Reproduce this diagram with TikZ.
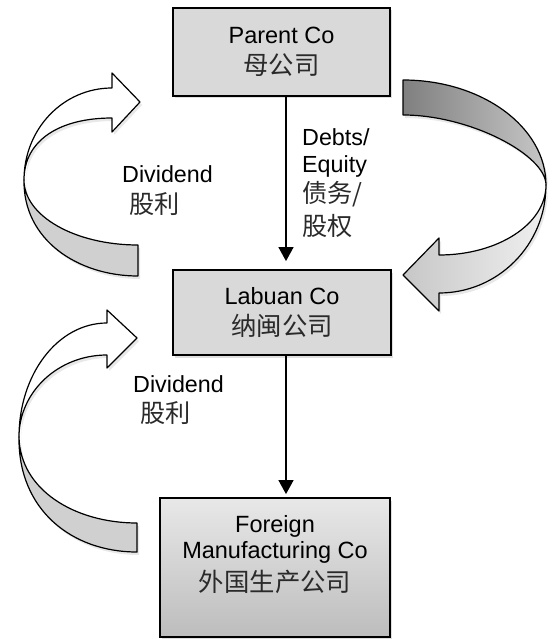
\documentclass[tikz,border=0pt]{standalone}
\usepackage{fontspec}
\setmainfont{Liberation Sans}
\newfontfamily\cjk[Scale=1.08]{Noto Sans CJK SC}
\usetikzlibrary{arrows.meta,shadows,calc}
\definecolor{boxfill}{HTML}{D9D9D9}
\definecolor{backgray}{HTML}{D0D0D0}
\definecolor{cjkcol}{HTML}{2A2A2A}
\begin{document}
\begin{tikzpicture}[x=1pt,y=-1pt,
  box/.style={draw=black, line width=1.8pt, fill=boxfill, inner sep=0pt, align=center,
    font=\fontsize{23.5}{26}\selectfont,
    drop shadow={opacity=0.25, shadow xshift=2pt, shadow yshift=-2.5pt}},
  lbl/.style={inner sep=0pt, align=left, font=\fontsize{23.3}{26}\selectfont},
  conn/.style={draw=black, line width=1.3pt, -{Triangle[length=14pt,width=15pt]}},
  ribbon/.style={draw=black, line width=1.2pt, line join=round},
  rshadow/.style={drop shadow={opacity=0.18, shadow xshift=2pt, shadow yshift=-3pt}}]
\useasboundingbox (0,0) rectangle (554,639);

% boxes
\node[box, minimum width=217pt, minimum height=88pt] (parent) at (281.5,52)
  {Parent Co\\[5pt]{\cjk\color{cjkcol}母公司}};
\node[box, minimum width=218pt, minimum height=85pt] (labuan) at (282,312.5)
  {Labuan Co\\[5pt]{\cjk\color{cjkcol}纳闽公司}};
\node[box, top color=black!9, bottom color=black!26, minimum width=230pt, minimum height=139pt] (fmc) at (275,567.5) {};
\node[inner sep=0pt, anchor=north, align=center, font=\fontsize{23.5}{26}\selectfont] (fmctext) at (275,515.2)
  {Foreign\\Manufacturing Co\\[6pt]{\cjk\color{cjkcol}外国生产公司}};

% straight connectors
\coordinate (lx) at (286,0);
\draw[conn, shorten >=8pt] (parent.south -| lx) -- (labuan.north -| lx);
\draw[conn, shorten >=3pt] (labuan.south -| lx) -- (fmc.north -| lx);

% labels
\node[lbl, anchor=north west] (debts) at (302,128.5)
  {Debts/\\[1pt]Equity\\[4pt]{\cjk\color{cjkcol}债务/}\\[7pt]{\cjk\color{cjkcol}股权}};
\node[lbl, anchor=north west] (div1) at (122,165.3)
  {Dividend\\[5pt]\hspace{7pt}{\cjk\color{cjkcol}股利}};
\node[lbl, anchor=north west] (div2) at (133,375.3)
  {Dividend\\[4pt]\hspace{7pt}{\cjk\color{cjkcol}股利}};

% top-left curved arrow (Labuan -> Parent)
\path[ribbon, fill=backgray, rshadow]
  (24,180) .. controls (23,240) and (78,276) .. (138,276) -- (138,245)
  .. controls (75,245) and (24,216) .. (24,180) -- cycle;
\path[ribbon, fill=white, rshadow]
  (24,180) .. controls (24,129) and (63,88) .. (112,88) -- (112,73) -- (140,102)
  -- (112,132) -- (112,118) .. controls (60,118) and (24,140) .. (24,180) -- cycle;

% bottom-left curved arrow (Foreign -> Labuan)
\path[ribbon, fill=backgray, rshadow]
  (19,437) .. controls (18,510) and (72,552) .. (137,552) -- (137,523)
  .. controls (75,523) and (20,490) .. (19,437) -- cycle;
\path[ribbon, fill=white, rshadow]
  (19,437) .. controls (19,374) and (58,323) .. (107,323) -- (107,310) -- (137,338)
  -- (107,368) -- (107,355) .. controls (58,355) and (19,392) .. (19,437) -- cycle;

% right curved arrow (Parent -> Labuan)
\path[ribbon, left color=black!50, right color=black!22, rshadow]
  (403,80) .. controls (482,80) and (546,127) .. (546,185)
  .. controls (546,155) and (470,115) .. (403,115) -- cycle;
\path[ribbon, left color=black!22, right color=black!6, rshadow]
  (546,185) .. controls (546,245) and (498,293) .. (439,293) -- (439,311) -- (403,275)
  -- (439,238) -- (439,255) .. controls (498,255) and (546,224) .. (546,185) -- cycle;
\end{tikzpicture}
\end{document}
